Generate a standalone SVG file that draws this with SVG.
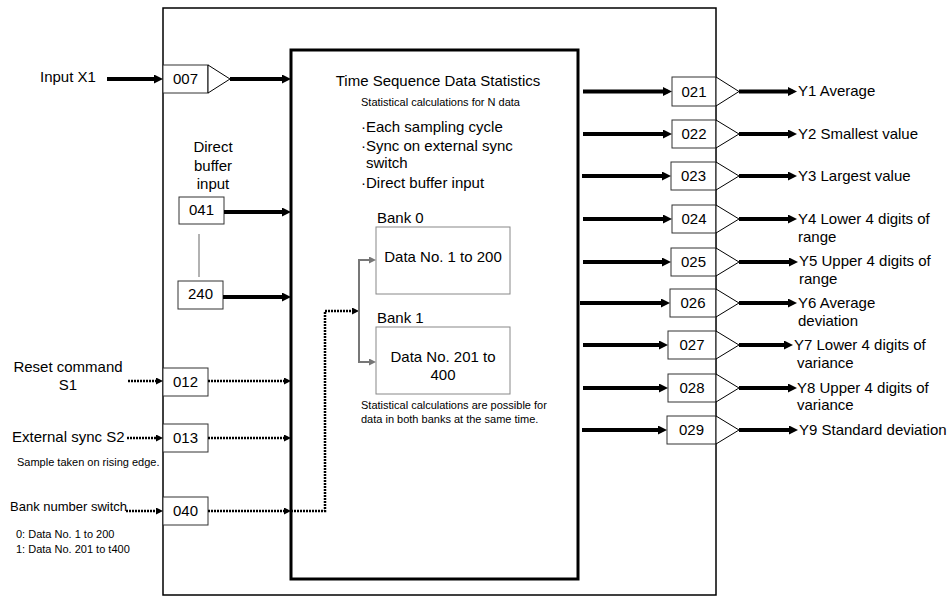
<svg xmlns="http://www.w3.org/2000/svg" width="950" height="597" viewBox="0 0 950 597">
<style>
text{font-family:"Liberation Sans",Arial,sans-serif;fill:#000}
.l{font-size:15px}
.s{font-size:11px}
.m{text-anchor:middle}
.box{fill:#fff;stroke:#333;stroke-width:1}
.tri{fill:#fff;stroke:#000;stroke-width:1}
.thick{stroke:#000;stroke-width:4;fill:none;marker-end:url(#ah)}
.dot{stroke:#000;stroke-width:2.5;stroke-dasharray:2 1;fill:none;marker-end:url(#ad)}
.gray{stroke:#777;stroke-width:2;fill:none;marker-end:url(#ag)}
</style>
<defs>
<marker id="ah" viewBox="0 0 9 9" markerWidth="9" markerHeight="9" refX="4.5" refY="4.5" markerUnits="userSpaceOnUse" orient="auto"><path d="M0,0 L9,4.5 L0,9 z" fill="#000"/></marker>
<marker id="ad" viewBox="0 0 7 7" markerWidth="7" markerHeight="7" refX="3.5" refY="3.5" markerUnits="userSpaceOnUse" orient="auto"><path d="M0,0 L7,3.5 L0,7 z" fill="#000"/></marker>
<marker id="ag" viewBox="0 0 7 7" markerWidth="7" markerHeight="7" refX="3.5" refY="3.5" markerUnits="userSpaceOnUse" orient="auto"><path d="M0,0 L7,3.5 L0,7 z" fill="#777"/></marker>
</defs>
<rect width="950" height="597" fill="#fff"/>
<g id="outer"><rect x="163" y="8" width="553" height="587" fill="#fff" stroke="#000" stroke-width="1.5"/></g>
<g id="main"><rect x="291" y="50" width="287" height="529" fill="#fff" stroke="#000" stroke-width="3"/>
<text class="l m" x="438" y="86">Time Sequence Data Statistics</text>
<text class="s" x="361" y="106">Statistical calculations for N data</text>
<text class="l" x="361" y="132">·Each sampling cycle</text>
<text class="l" x="361" y="151">·Sync on external sync</text>
<text class="l" x="366" y="168">switch</text>
<text class="l" x="361" y="188">·Direct buffer input</text>
<text class="s" x="361" y="409">Statistical calculations are possible for</text>
<text class="s" x="361" y="423">data in both banks at the same time.</text>
</g>
<g id="bank0"><text class="l" x="377" y="223">Bank 0</text><rect x="376" y="227" width="134" height="67" fill="#fff" stroke="#888" stroke-width="1"/><text class="l m" x="443" y="262">Data No. 1 to 200</text></g>
<g id="bank1"><text class="l" x="377" y="323">Bank 1</text><rect x="376" y="327" width="134" height="67" fill="#fff" stroke="#888" stroke-width="1"/><text class="l m" x="443" y="362">Data No. 201 to</text><text class="l m" x="443" y="380">400</text></g>
<g id="labels-left">
<text class="l" x="40" y="82">Input X1</text>
<text class="l m" x="213" y="152">Direct</text>
<text class="l m" x="213" y="171">buffer</text>
<text class="l m" x="213" y="189">input</text>
<text class="l m" x="68" y="372">Reset command</text>
<text class="l m" x="68" y="390">S1</text>
<text class="l" x="12" y="442">External sync S2</text>
<text class="s" x="17" y="466">Sample taken on rising edge.</text>
<text x="10" y="511" style="font-size:13px">Bank number switch</text>
<text class="s" x="16" y="538">0: Data No. 1 to 200</text>
<text class="s" x="16" y="553">1: Data No. 201 to t400</text>
</g>
<g id="n007"><rect class="box" x="163" y="65" width="45" height="28"/><polygon class="tri" points="208,65 230,79 208,93"/><text class="l m" x="185.5" y="84">007</text></g>
<g id="n041"><rect class="box" x="179" y="197" width="45" height="27"/><text class="l m" x="201.5" y="215">041</text></g>
<g id="n240"><rect class="box" x="178" y="281" width="45" height="28"/><text class="l m" x="200.5" y="299">240</text></g>
<g id="n012"><rect class="box" x="163" y="368" width="45" height="28"/><text class="l m" x="185.5" y="387">012</text></g>
<g id="n013"><rect class="box" x="163" y="424" width="45" height="28"/><text class="l m" x="185.5" y="443">013</text></g>
<g id="n040"><rect class="box" x="163" y="497" width="45" height="28"/><text class="l m" x="185.5" y="516">040</text></g>
<g id="n021"><rect class="box" x="672" y="77" width="44" height="29"/><polygon class="tri" points="716,77 739,91.5 716,106"/><text class="l m" x="694" y="97">021</text></g>
<g id="n022"><rect class="box" x="672" y="120" width="44" height="28"/><polygon class="tri" points="716,120 739,134 716,148"/><text class="l m" x="694" y="139">022</text></g>
<g id="n023"><rect class="box" x="671" y="162" width="45" height="28"/><polygon class="tri" points="716,162 739,176 716,190"/><text class="l m" x="693.5" y="181">023</text></g>
<g id="n024"><rect class="box" x="672" y="205" width="44" height="28"/><polygon class="tri" points="716,205 739,219 716,233"/><text class="l m" x="694" y="224">024</text></g>
<g id="n025"><rect class="box" x="671" y="248" width="45" height="28"/><polygon class="tri" points="716,248 739,262 716,276"/><text class="l m" x="693.5" y="267">025</text></g>
<g id="n026"><rect class="box" x="670" y="289" width="46" height="28"/><polygon class="tri" points="716,289 739,303 716,317"/><text class="l m" x="693" y="308">026</text></g>
<g id="n027"><rect class="box" x="668" y="331" width="48" height="28"/><polygon class="tri" points="716,331 739,345 716,359"/><text class="l m" x="692" y="350">027</text></g>
<g id="n028"><rect class="box" x="668" y="374" width="48" height="28"/><polygon class="tri" points="716,374 739,388 716,402"/><text class="l m" x="692" y="393">028</text></g>
<g id="n029"><rect class="box" x="667" y="416" width="49" height="28"/><polygon class="tri" points="716,416 739,430 716,444"/><text class="l m" x="691.5" y="435">029</text></g>
<g id="labels-right">
<text class="l" x="798" y="96">Y1 Average</text>
<text class="l" x="798" y="139">Y2 Smallest value</text>
<text class="l" x="798" y="181">Y3 Largest value</text>
<text class="l" x="798" y="224">Y4 Lower 4 digits of</text>
<text class="l" x="798" y="242">range</text>
<text class="l" x="799" y="266">Y5 Upper 4 digits of</text>
<text class="l" x="799" y="284">range</text>
<text class="l" x="798" y="308">Y6 Average</text>
<text class="l" x="798" y="326">deviation</text>
<text class="l" x="794" y="350">Y7 Lower 4 digits of</text>
<text class="l" x="797" y="368">variance</text>
<text class="l" x="797" y="393">Y8 Upper 4 digits of</text>
<text class="l" x="797" y="410">variance</text>
<text class="l" x="799" y="435">Y9 Standard deviation</text>
</g>
<g id="connectors">
<line class="thick" x1="107" y1="79" x2="158.5" y2="79"/>
<line class="thick" x1="230" y1="79" x2="286.5" y2="79"/>
<line class="thick" x1="224" y1="212" x2="286.5" y2="212"/>
<line class="thick" x1="223" y1="297" x2="286.5" y2="297"/>
<line x1="199" y1="234" x2="199" y2="277" stroke="#999" stroke-width="1.5"/>
<line class="dot" x1="128" y1="381" x2="159.5" y2="381"/>
<line class="dot" x1="208" y1="381" x2="287.5" y2="381"/>
<line class="dot" x1="127" y1="438" x2="159.5" y2="438"/>
<line class="dot" x1="208" y1="438" x2="287.5" y2="438"/>
<line class="dot" x1="126" y1="511" x2="159.5" y2="511"/>
<line class="dot" x1="208" y1="511" x2="287.5" y2="511"/>
<path class="dot" d="M291,511 H325 V311 H355.5"/>
<line x1="359" y1="260" x2="359" y2="362" stroke="#777" stroke-width="2"/>
<line class="gray" x1="358" y1="260" x2="372.5" y2="260"/>
<line class="gray" x1="358" y1="362" x2="372.5" y2="362"/>
<line class="thick" x1="583" y1="91.5" x2="667.5" y2="91.5"/>
<line class="thick" x1="583" y1="134" x2="667.5" y2="134"/>
<line class="thick" x1="582" y1="176" x2="666.5" y2="176"/>
<line class="thick" x1="583" y1="219" x2="667.5" y2="219"/>
<line class="thick" x1="583" y1="262" x2="666.5" y2="262"/>
<line class="thick" x1="580" y1="303" x2="665.5" y2="303"/>
<line class="thick" x1="583" y1="345" x2="663.5" y2="345"/>
<line class="thick" x1="583" y1="388" x2="663.5" y2="388"/>
<line class="thick" x1="582" y1="430" x2="662.5" y2="430"/>
<line class="thick" x1="739" y1="91.5" x2="792.5" y2="91.5"/>
<line class="thick" x1="739" y1="134" x2="792.5" y2="134"/>
<line class="thick" x1="739" y1="176" x2="792.5" y2="176"/>
<line class="thick" x1="739" y1="219" x2="792.5" y2="219"/>
<line class="thick" x1="739" y1="262" x2="793.5" y2="262"/>
<line class="thick" x1="739" y1="303" x2="792.5" y2="303"/>
<line class="thick" x1="739" y1="345" x2="788.5" y2="345"/>
<line class="thick" x1="739" y1="388" x2="792.5" y2="388"/>
<line class="thick" x1="739" y1="430" x2="793.5" y2="430"/>
</g>
</svg>
